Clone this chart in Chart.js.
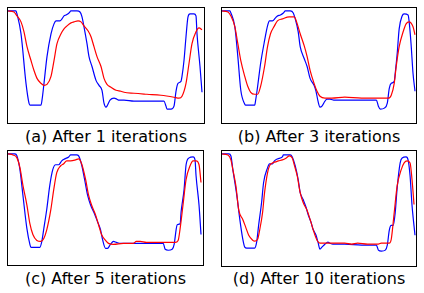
<!DOCTYPE html>
<html>
<head>
<meta charset="utf-8">
<script src="https://cdn.jsdelivr.net/npm/chart.js@4/dist/chart.umd.min.js"></script>
<style>
  html, body { margin: 0; padding: 0; background: #fff; }
  body { width: 424px; height: 293px; position: relative; overflow: hidden; font-family: "DejaVu Sans", sans-serif; }
  .panel { position: absolute; border: 1px solid #000; box-sizing: border-box; }
  .panel canvas { display: block; }
  .cap { position: absolute; text-align: center; font-size: 16px; line-height: 16px; color: #000; white-space: nowrap; }
</style>
</head>
<body>
<div class="panel" id="pa" style="left:7px;top:7px;width:198px;height:117px"><canvas id="ca"></canvas></div>
<div class="panel" id="pb" style="left:221px;top:7px;width:196px;height:117px"><canvas id="cb"></canvas></div>
<div class="panel" id="pc" style="left:7px;top:150px;width:197px;height:116px"><canvas id="cc"></canvas></div>
<div class="panel" id="pd" style="left:221px;top:150px;width:196px;height:117px"><canvas id="cd"></canvas></div>
<div class="cap" style="left:7px;width:198px;top:129px">(a) After 1 iterations</div>
<div class="cap" style="left:221px;width:196px;top:129px">(b) After 3 iterations</div>
<div class="cap" style="left:7px;width:197px;top:271px">(c) After 5 iterations</div>
<div class="cap" style="left:221px;width:196px;top:271px">(d) After 10 iterations</div>
<script>
// signal values as [sample, value] pairs
const targetA = [[0,113],[8,113],[9,110],[13,90],[18,40],[21,20],[22,18],[33,18],[34,23],[36,40],[39,67],[43,90],[46,100],[48,103],[49,103],[52,103],[54,105],[56,108],[58,109],[61,111],[63,113],[69,113],[72,112],[74,107],[76,97],[79,80],[81,67],[84,57],[88,43],[91,38],[94,33],[96,20],[98,16],[99,17],[102,23],[106,25],[109,24],[111,23],[116,23],[126,22],[156,22],[158,17],[159,14],[163,14],[166,17],[168,32],[170,40],[173,42],[174,47],[176,63],[178,87],[180,107],[182,110],[186,110],[188,108],[189,90],[192,57],[194,31]];
const estA = [[0,113],[6,112],[9,108],[13,102],[16,92],[19,77],[23,63],[26,53],[29,45],[33,40],[36,38],[39,39],[43,47],[46,63],[49,80],[53,90],[56,95],[59,98],[63,101],[66,102],[70,103],[73,102],[76,98],[80,93],[83,87],[86,77],[89,67],[93,57],[96,45],[99,39],[103,36],[108,33],[113,32],[116,31],[126,30],[139,29],[153,28],[166,26],[171,25],[174,27],[178,40],[181,60],[184,80],[188,92],[191,96],[194,94]];

const targetB = [[0,113],[8,113],[9,111],[13,97],[16,67],[19,33],[23,19],[24,18],[33,18],[34,23],[36,37],[39,60],[43,83],[46,98],[48,103],[51,103],[54,106],[56,108],[59,109],[62,111],[64,113],[69,113],[72,111],[74,105],[77,92],[79,77],[83,65],[86,57],[89,45],[93,38],[95,32],[97,22],[99,16],[101,17],[104,22],[106,24],[109,24],[114,23],[124,23],[156,23],[158,17],[160,14],[164,15],[167,20],[169,35],[171,40],[174,42],[175,50],[177,70],[179,95],[182,108],[184,110],[188,109],[189,103],[191,80],[193,50],[195,32]];
const estB = [[0,113],[6,112],[9,108],[13,97],[16,80],[19,63],[23,47],[26,37],[29,31],[33,29],[36,29],[39,37],[43,57],[46,77],[49,90],[53,98],[56,103],[61,105],[68,107],[73,107],[76,100],[79,90],[83,78],[86,67],[89,53],[93,40],[96,32],[99,27],[104,25],[111,25],[124,26],[141,25],[158,25],[168,25],[171,28],[174,40],[176,57],[179,77],[183,92],[186,100],[189,102],[193,97],[195,89]];

const targetC = [[0,113],[7,113],[9,111],[12,97],[15,71],[19,37],[22,21],[23,18],[32,18],[34,24],[36,37],[39,57],[42,81],[45,97],[48,102],[51,102],[54,106],[57,108],[61,110],[63,112],[69,112],[71,111],[74,102],[77,87],[80,71],[83,61],[87,52],[90,44],[93,36],[95,26],[98,17],[100,17],[103,21],[106,24],[109,23],[113,22],[126,22],[156,22],[158,16],[161,15],[165,16],[167,21],[169,36],[170,41],[173,42],[174,54],[177,77],[179,102],[182,109],[186,110],[188,107],[189,91],[192,61],[194,31]];
const estC = [[0,113],[5,112],[9,109],[12,99],[15,81],[19,61],[22,42],[25,31],[29,25],[33,24],[36,27],[39,36],[43,56],[46,77],[49,94],[53,101],[56,103],[59,106],[63,106],[68,107],[71,108],[74,103],[78,87],[81,71],[84,61],[88,51],[91,41],[94,31],[98,25],[101,22],[106,21],[116,22],[126,22],[129,24],[133,24],[139,23],[153,23],[159,23],[168,23],[171,25],[173,37],[176,62],[179,87],[183,101],[186,106],[189,106],[192,102],[194,84]];

const targetD = [[0,113],[7,113],[9,111],[11,97],[15,71],[18,47],[21,27],[23,19],[25,18],[33,18],[35,24],[37,41],[40,64],[42,84],[46,99],[48,103],[51,103],[53,106],[56,108],[61,110],[62,112],[69,112],[71,110],[74,101],[77,87],[79,74],[82,67],[85,59],[87,52],[90,44],[92,37],[95,31],[97,24],[99,17],[101,19],[104,22],[107,24],[109,23],[112,22],[124,22],[141,21],[156,21],[158,16],[161,15],[165,16],[167,21],[169,36],[171,41],[173,41],[175,54],[177,79],[180,104],[182,109],[186,110],[188,107],[190,91],[192,61],[195,31]];
const estD = [[0,113],[6,112],[9,107],[11,97],[14,81],[17,56],[21,47],[24,39],[27,31],[31,26],[33,25],[36,27],[38,36],[41,54],[43,74],[46,94],[48,101],[51,104],[54,105],[57,106],[61,107],[65,109],[68,111],[71,109],[73,102],[76,91],[79,74],[82,64],[86,56],[89,47],[92,37],[96,26],[99,23],[104,23],[114,23],[124,23],[131,22],[137,23],[147,22],[157,22],[161,23],[169,23],[171,27],[174,54],[177,81],[181,97],[184,104],[187,106],[190,104],[192,87],[194,62]];

const panels = [
  ['ca', targetA, estA],
  ['cb', targetB, estB],
  ['cc', targetC, estC],
  ['cd', targetD, estD]
];

function toPts(arr) {
  return arr.map(p => ({ x: p[0], y: p[1] }));
}

panels.forEach(function (p) {
  const ctx = document.getElementById(p[0]).getContext('2d');
  new Chart(ctx, {
    type: 'line',
    data: {
      datasets: [
        {
          data: toPts(p[1]),
          borderColor: '#0000ff',
          borderWidth: 1.2,
          pointRadius: 0,
          cubicInterpolationMode: 'monotone',
          clip: false,
          order: 2
        },
        {
          data: toPts(p[2]),
          borderColor: '#ff0000',
          borderWidth: 1.2,
          pointRadius: 0,
          cubicInterpolationMode: 'monotone',
          clip: false,
          order: 1
        }
      ]
    },
    options: {
      responsive: true,
      maintainAspectRatio: false,
      animation: false,
      events: [],
      layout: { padding: 0 },
      scales: {
        x: { type: 'linear', min: 0, max: 196, display: false },
        y: { min: 0, max: 116, display: false }
      },
      plugins: {
        legend: { display: false },
        tooltip: { enabled: false }
      }
    }
  });
});
</script>
</body>
</html>
